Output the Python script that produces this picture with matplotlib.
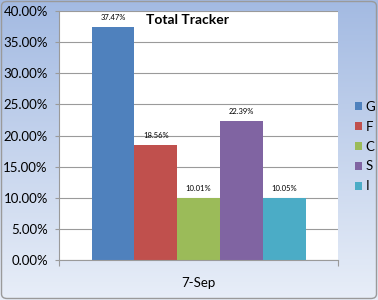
import numpy as np
import matplotlib.pyplot as plt
from matplotlib.patches import FancyBboxPatch

plt.rcParams['font.family'] = ['Lato', 'DejaVu Sans']

series = ['G', 'F', 'C', 'S', 'I']
values = [37.47, 18.56, 10.01, 22.39, 10.05]
colors = ['#4f81bd', '#c0504d', '#9bbb59', '#8064a2', '#4bacc6']
category = '7-Sep'

fig = plt.figure(figsize=(3.78, 3.0), dpi=100)

# gradient background
bg = fig.add_axes([0, 0, 1, 1], zorder=0)
top = np.array([163, 186, 226]) / 255
bot = np.array([232, 238, 248]) / 255
t = np.linspace(0, 1, 256)[:, None, None]
grad = top * (1 - t) + bot * t
grad = np.repeat(grad, 2, axis=1)
bg.imshow(grad, aspect='auto', extent=[0, 1, 0, 1], origin='upper')
bg.add_patch(FancyBboxPatch((0.004, 0.005), 0.992, 0.99, boxstyle='round,pad=0,rounding_size=0.015',
                            fill=False, edgecolor='#9a9a9a', lw=1, transform=bg.transAxes))
bg.set_xlim(0, 1)
bg.set_ylim(0, 1)
bg.axis('off')

ax = fig.add_axes([0.156, 0.133, 0.738, 0.83], zorder=1)
ax.set_facecolor('white')
x = np.arange(len(series)) - 2
for xi, v, c, s in zip(x, values, colors, series):
    ax.bar(xi, v, width=1, color=c, label=s, zorder=2)
    ax.text(xi, v + 0.9, f'{v:.2f}%', ha='center', va='bottom', fontsize=5.5, zorder=3)

ax.set_xlim(-3.26, 3.25)
ax.set_ylim(0, 40)
ax.set_yticks(np.arange(0, 41, 5))
ax.set_yticklabels([f'{v:.2f}%' for v in np.arange(0, 41, 5)], fontsize=9.5)
ax.yaxis.grid(True, color='#9a9a9a', lw=0.8, zorder=0)
ax.set_axisbelow(True)
ax.set_xticks([-3.26, 3.25])
ax.set_xticklabels(['', ''])
ax.tick_params(axis='x', length=4, color='#9a9a9a', direction='out')
ax.tick_params(axis='y', length=3, color='#9a9a9a', pad=5)
for side in ['top', 'right']:
    ax.spines[side].set_visible(False)
for side in ['left', 'bottom']:
    ax.spines[side].set_color('#9a9a9a')
ax.text(0, -3.6, category, ha='center', va='center', fontsize=9.5)
ax.text(-0.25, 38.6, 'Total Tracker', ha='center', va='center', fontsize=10, fontweight='bold')

ax.legend(loc='upper left', bbox_to_anchor=(1.062, 0.64), frameon=False, fontsize=9.5,
          borderpad=0, borderaxespad=0, handlelength=0.55, handleheight=0.55,
          handletextpad=0.25, labelspacing=0.6)

fig.savefig('out.png', dpi=100)
